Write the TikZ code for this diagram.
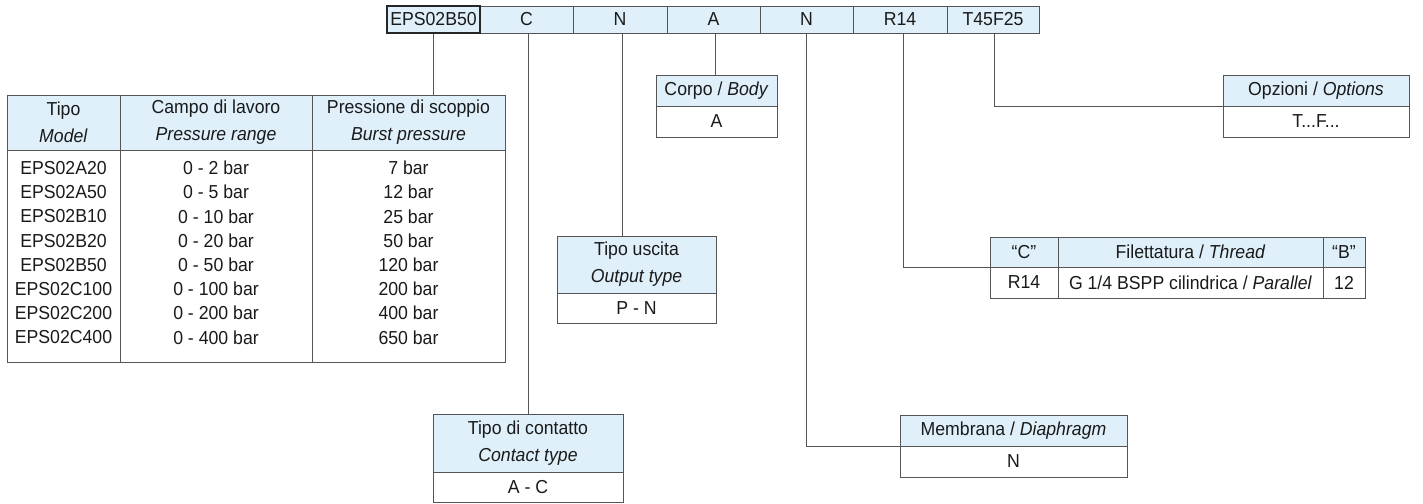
\documentclass[tikz,border=0pt]{standalone}
\usepackage{fontspec}
\setmainfont[FakeStretch=0.94]{Liberation Sans}
\newcommand\fs{\fontsize{18.8}{27}\selectfont}
\definecolor{hdblue}{HTML}{DFF0FA}
\definecolor{linec}{HTML}{555555}
\definecolor{txt}{HTML}{1A1A1A}
\tikzset{
  cellbase/.style={draw=linec, line width=0.85pt, inner sep=0pt, align=center, font=\fs, text=txt},
  hd/.style={cellbase, fill=hdblue},
  vl/.style={cellbase, fill=white},
  codefirst/.style={cellbase, fill=hdblue, draw=black!85, line width=1.1pt},
  txtnode/.style={inner sep=0pt, font=\fs, text=txt, align=center},
  wire/.style={draw=linec, line width=0.85pt},
}
\newcommand\mybox[7]{%
  \pgfmathsetmacro\bcx{(#2+#4)/2}\pgfmathsetmacro\bcy{(#3+#5)/2}%
  \pgfmathsetmacro\bw{#4-#2}\pgfmathsetmacro\bh{#5-#3}%
  \node[#6, minimum width=\bw pt, minimum height=\bh pt] (#1) at (\bcx,\bcy) {#7};}
\begin{document}
\begin{tikzpicture}[x=1pt,y=-1pt]
\useasboundingbox (0,0) rectangle (1423,503);
% code bar
\mybox{c2}{480}{6}{573}{33}{hd}{C}
\mybox{c3}{573}{6}{667}{33}{hd}{N}
\mybox{c4}{667}{6}{760}{33}{hd}{A}
\mybox{c5}{760}{6}{853}{33}{hd}{N}
\mybox{c6}{853}{6}{947}{33}{hd}{R14}
\mybox{c7}{947}{6}{1039}{33}{hd}{T45F25}
\mybox{c1}{387}{6}{480}{33}{codefirst}{EPS02B50}
% model table
\mybox{tH1}{7}{95}{120}{150}{hd}{Tipo\\\textit{Model}}
\mybox{tH2}{120}{95}{312}{150}{hd}{Campo di lavoro\\\textit{Pressure range}}
\mybox{tH3}{312}{95}{505}{150}{hd}{Pressione di scoppio\\\textit{Burst pressure}}
\mybox{tB1}{7}{150}{120}{362}{vl}{}
\mybox{tB2}{120}{150}{312}{362}{vl}{}
\mybox{tB3}{312}{150}{505}{362}{vl}{}
\foreach \m/\r/\b [count=\i] in {EPS02A20/0 - 2 bar/7 bar, EPS02A50/0 - 5 bar/12 bar, EPS02B10/0 - 10 bar/25 bar, EPS02B20/0 - 20 bar/50 bar, EPS02B50/0 - 50 bar/120 bar, EPS02C100/0 - 100 bar/200 bar, EPS02C200/0 - 200 bar/400 bar, EPS02C400/0 - 400 bar/650 bar}{
  \node[txtnode] (mod\i) at (63.5,{168+24.2*(\i-1)}) {\m};
  \node[txtnode] (rng\i) at (216,{168+24.2*(\i-1)}) {\r};
  \node[txtnode] (bst\i) at (408.5,{168+24.2*(\i-1)}) {\b};
}
% body
\mybox{corpoH}{656}{75}{777}{106}{hd}{Corpo / \textit{Body}}
\mybox{corpoV}{656}{106}{777}{137}{vl}{A}
% options
\mybox{optH}{1223}{75}{1409}{106}{hd}{Opzioni / \textit{Options}}
\mybox{optV}{1223}{106}{1409}{137}{vl}{T...F...}
% output type
\mybox{outH}{557}{236}{716}{293}{hd}{Tipo uscita\\\textit{Output type}}
\mybox{outV}{557}{293}{716}{323}{vl}{P - N}
% thread
\mybox{fH1}{990}{237}{1058}{267}{hd}{“C”}
\mybox{fH2}{1058}{237}{1323}{267}{hd}{Filettatura / \textit{Thread}}
\mybox{fH3}{1323}{237}{1365}{267}{hd}{“B”}
\mybox{fV1}{990}{267}{1058}{298}{vl}{R14}
\mybox{fV2}{1058}{267}{1323}{298}{vl}{G 1/4 BSPP cilindrica / \textit{Parallel}}
\mybox{fV3}{1323}{267}{1365}{298}{vl}{12}
% contact type
\mybox{conH}{433}{414}{623}{472}{hd}{Tipo di contatto\\\textit{Contact type}}
\mybox{conV}{433}{472}{623}{502}{vl}{A - C}
% diaphragm
\mybox{memH}{900}{415}{1127}{446}{hd}{Membrana / \textit{Diaphragm}}
\mybox{memV}{900}{446}{1127}{477}{vl}{N}
% connectors
\draw[wire] (c1.south) -- (c1.south |- tH3.north);
\draw[wire] ([xshift=1.5pt]c2.south) -- ([xshift=1.5pt]c2.south |- conH.north);
\draw[wire] ([xshift=2pt]c3.south) -- ([xshift=2pt]c3.south |- outH.north);
\draw[wire] ([xshift=1.5pt]c4.south) -- ([xshift=1.5pt]c4.south |- corpoH.north);
\draw[wire] (c5.south) |- (memH.south west);
\draw[wire] ([xshift=3pt]c6.south) |- (fH1.south west);
\draw[wire] ([xshift=1pt]c7.south) |- (optH.south west);
\end{tikzpicture}
\end{document}
